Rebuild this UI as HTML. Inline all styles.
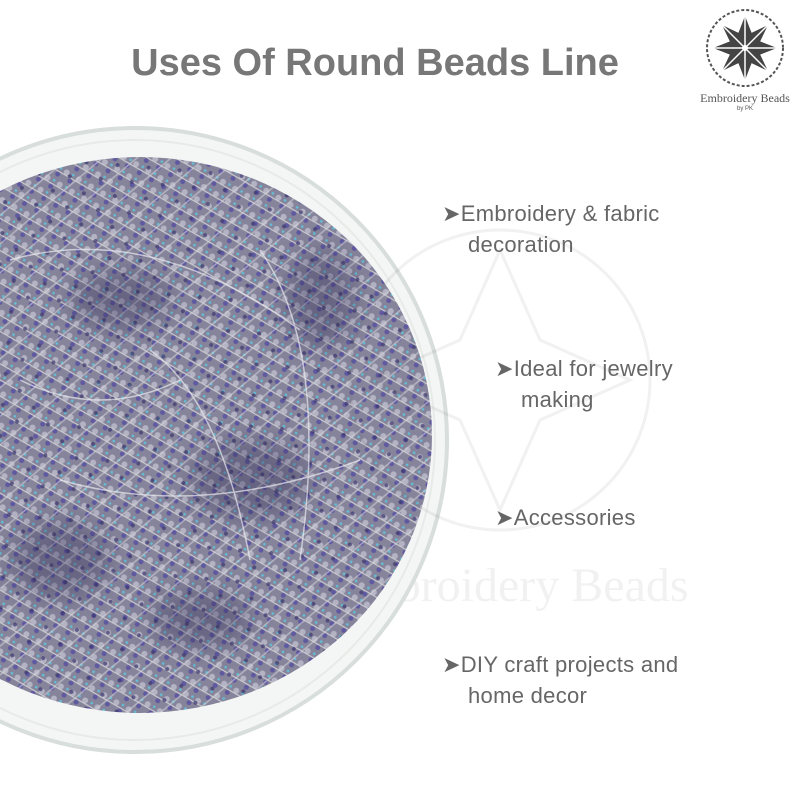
<!DOCTYPE html>
<html><head><meta charset="utf-8"><style>
html,body{margin:0;padding:0;background:#fff;}
body{width:800px;height:800px;position:relative;overflow:hidden;font-family:"Liberation Sans",sans-serif;}
.t{position:absolute;color:#6e6e6e;}
.title{left:0;width:750px;text-align:center;top:42px;font-size:38px;font-weight:bold;color:#777;}
.b{font-size:22px;line-height:31px;color:#666;letter-spacing:0.3px;font-family:"Liberation Sans",sans-serif;}
</style></head><body>
<div class="t" style="left:330px;top:558px;font-size:48px;color:#000;opacity:0.05;font-family:'Liberation Serif',serif">Embroidery Beads</div>
<svg width="800" height="800" style="position:absolute;left:0;top:0">
<defs>
<pattern id="p" width="14" height="14" patternUnits="userSpaceOnUse" patternTransform="rotate(30)">
<rect width="14" height="14" fill="#86849a"/>
<circle cx="4" cy="4" r="3" fill="#b4b3c4"/>
<circle cx="11" cy="10" r="2.5" fill="#5f5aa0"/>
<circle cx="11" cy="3" r="1.3" fill="#5fc0d8"/>
<line x1="0" y1="7" x2="14" y2="7" stroke="#c9c9cf" stroke-width="1.2"/>
</pattern>
<pattern id="q" width="22" height="22" patternUnits="userSpaceOnUse" patternTransform="rotate(-40)">
<line x1="0" y1="11" x2="22" y2="11" stroke="#d4d4da" stroke-width="1.5" opacity="0.6"/>
<circle cx="6" cy="4" r="2" fill="#3a3670" opacity="0.7"/>
</pattern>
<filter id="bl"><feGaussianBlur stdDeviation="12"/></filter>
</defs>
<circle cx="135" cy="440" r="312" fill="#f4f6f5" stroke="#d8dedb" stroke-width="4"/>
<circle cx="135" cy="440" r="300" fill="none" stroke="#e6ebe8" stroke-width="2"/>
<ellipse cx="140" cy="435" rx="292" ry="278" fill="url(#p)"/>
<ellipse cx="140" cy="435" rx="292" ry="278" fill="url(#q)"/>
<g filter="url(#bl)" fill="#2e2b55" opacity="0.35">
<ellipse cx="250" cy="480" rx="60" ry="40"/><ellipse cx="120" cy="300" rx="50" ry="30"/>
<ellipse cx="60" cy="560" rx="50" ry="40"/><ellipse cx="320" cy="300" rx="35" ry="50"/>
<ellipse cx="200" cy="620" rx="50" ry="30"/>
</g>
<g fill="none" stroke="#e8e8ee" stroke-width="1.5" opacity="0.7">
<path d="M10 260 Q150 220 300 330"/><path d="M60 480 Q200 520 360 460"/>
<path d="M150 350 Q220 400 250 560"/><path d="M20 380 Q100 420 180 380"/>
<path d="M260 250 Q330 350 300 560"/>
</g>
<g opacity="0.08" fill="none" stroke="#555" stroke-width="3">
<circle cx="500" cy="380" r="150"/>
<path d="M500 250 L540 340 L630 380 L540 420 L500 510 L460 420 L370 380 L460 340Z"/>
</g>
<g transform="translate(745,48)">
<circle r="38" fill="none" stroke="#555" stroke-width="2" stroke-dasharray="3 2"/>
<path d="M0 -32 L9 -9 L32 0 L9 9 L0 32 L-9 9 L-32 0 L-9 -9Z" fill="#444"/>
<path d="M-23 -23 L0 -12 L23 -23 L12 0 L23 23 L0 12 L-23 23 L-12 0Z" fill="#444"/>
<path d="M0 -32 V32 M-32 0 H32 M-23 -23 L23 23 M23 -23 L-23 23" stroke="#fff" stroke-width="1.5"/>
<circle r="3" fill="#fff"/>
</g>
</svg>
<div class="t title">Uses Of Round Beads Line</div>
<div class="t" style="left:690px;top:91px;width:110px;text-align:center;font-size:12px;color:#555;font-family:'Liberation Serif',serif">Embroidery Beads</div>
<div class="t" style="left:690px;top:106px;width:110px;text-align:center;font-size:6px;color:#555">by PK</div>
<div class="t b" style="left:442px;top:198px">&#10148;Embroidery &amp; fabric<br><span style="padding-left:26px">decoration</span></div>
<div class="t b" style="left:495px;top:353px">&#10148;Ideal for jewelry<br><span style="padding-left:26px">making</span></div>
<div class="t b" style="left:495px;top:502px">&#10148;Accessories</div>
<div class="t b" style="left:442px;top:649px">&#10148;DIY craft projects and<br><span style="padding-left:26px">home decor</span></div>
</body></html>
